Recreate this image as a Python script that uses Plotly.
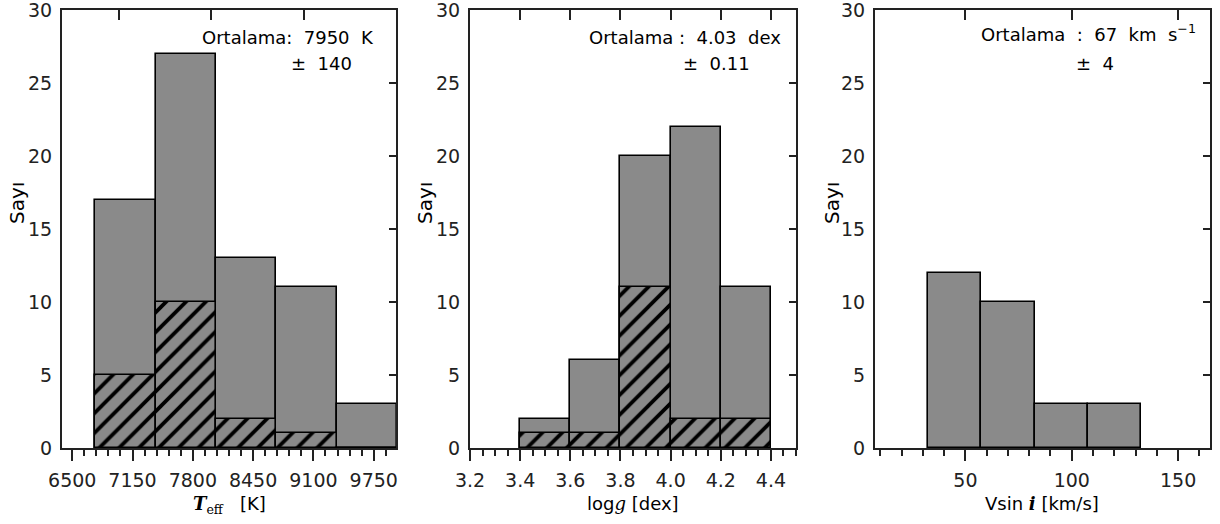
import plotly.graph_objects as go

W, H = 1220, 524

# ---------------- data ----------------
teff_edges = [6750, 7400, 8050, 8700, 9350, 10000]
teff_total = [17, 27, 13, 11, 3]
teff_hatched = [5, 10, 2, 1, 0]

logg_edges = [3.4, 3.6, 3.8, 4.0, 4.2, 4.4]
logg_total = [2, 6, 20, 22, 11]
logg_hatched = [1, 1, 11, 2, 2]

vsini_edges = [32.5, 57.5, 82.5, 107.5, 132.5]
vsini_total = [12, 10, 3, 3]

teff_ticks = [6500, 7150, 7800, 8450, 9100, 9750]
logg_ticks = [3.2, 3.4, 3.6, 3.8, 4.0, 4.2, 4.4]
logg_ticklabels = ["3.2", "3.4", "3.6", "3.8", "4.0", "4.2", "4.4"]
vsini_ticks = [50, 100, 150]
y_ticks = [0, 5, 10, 15, 20, 25, 30]

# ---------------- styling ----------------
FONT = "DejaVu Sans"
GRAY = "#8a8a8a"
AXC = "#222222"
FS = 18
TFS = 19


def px_x(p):
    return p / W


def px_y(p):
    return 1 - p / H


panels = [
    dict(x0=62, x1=396, rng=[6390, 9990], ticks=teff_ticks, labels=[str(t) for t in teff_ticks],
         minor=dict(tick0=6500, dtick=130), top=[7000, 8000, 9000]),
    dict(x0=470, x1=796, rng=[3.2, 4.5], ticks=logg_ticks, labels=logg_ticklabels,
         minor=dict(tick0=3.2, dtick=0.05), top=[3.4, 3.6, 3.8, 4.0, 4.2, 4.4]),
    dict(x0=875, x1=1210, rng=[7.5, 165], ticks=vsini_ticks, labels=[str(t) for t in vsini_ticks],
         minor=dict(tick0=10, dtick=10), top=[50, 100, 150]),
]
ydom = [px_y(448), px_y(10)]

fig = go.Figure()


def centers(edges):
    return [(a + b) / 2 for a, b in zip(edges[:-1], edges[1:])]


def widths(edges):
    return [b - a for a, b in zip(edges[:-1], edges[1:])]


datasets = [
    (teff_edges, teff_total, teff_hatched),
    (logg_edges, logg_total, logg_hatched),
    (vsini_edges, vsini_total, None),
]

for i, (edges, tot, hat) in enumerate(datasets):
    xa = "x" if i == 0 else f"x{i+1}"
    ya = "y" if i == 0 else f"y{i+1}"
    fig.add_trace(go.Bar(x=centers(edges), y=tot, width=widths(edges), xaxis=xa, yaxis=ya,
                         marker=dict(color=GRAY, line=dict(color="black", width=1.6)),
                         showlegend=False, hoverinfo="skip"))
    if hat is not None:
        fig.add_trace(go.Bar(x=centers(edges), y=hat, width=widths(edges), xaxis=xa, yaxis=ya,
                             marker=dict(color=GRAY, line=dict(color="black", width=1.6),
                                         pattern=dict(shape="/", fgcolor="black", bgcolor=GRAY,
                                                      fgopacity=1, size=14, solidity=0.27,
                                                      fillmode="overlay")),
                             showlegend=False, hoverinfo="skip"))
    # empty traces so the overlay axes (top & right frame with inward ticks) are drawn
    fig.add_trace(go.Scatter(x=[], y=[], xaxis=f"x{i+4}", yaxis=ya, showlegend=False))
    fig.add_trace(go.Scatter(x=[], y=[], xaxis=xa, yaxis=f"y{i+4}", showlegend=False))

layout = dict(
    width=W, height=H, margin=dict(l=0, r=0, t=0, b=0, autoexpand=False),
    paper_bgcolor="white", plot_bgcolor="white",
    barmode="overlay", bargap=0,
    font=dict(family=FONT, size=FS, color=AXC),
)

for i, p in enumerate(panels):
    n = "" if i == 0 else str(i + 1)
    dom = [px_x(p["x0"]), px_x(p["x1"])]
    layout[f"xaxis{n}"] = dict(
        domain=dom, range=p["rng"], anchor=f"y{n}", showgrid=False, zeroline=False,
        automargin=False,
        showline=True, linecolor=AXC, linewidth=2,
        tickmode="array", tickvals=p["ticks"], ticktext=p["labels"],
        ticks="outside", ticklen=11, tickwidth=1.5, tickcolor=AXC,
        minor=dict(tickmode="linear", tick0=p["minor"]["tick0"], dtick=p["minor"]["dtick"],
                   ticks="outside", ticklen=6, tickwidth=1.5, tickcolor=AXC),
        tickfont=dict(family=FONT, size=TFS, color=AXC),
        ticklabelstandoff=3, ticklabeloverflow="allow",
    )
    layout[f"yaxis{n}"] = dict(
        domain=ydom, range=[0, 30], anchor=f"x{n}", showgrid=False, zeroline=False,
        automargin=False,
        showline=True, linecolor=AXC, linewidth=2,
        tickmode="array", tickvals=y_ticks, ticks="",
        tickfont=dict(family=FONT, size=TFS, color=AXC),
        ticklabelstandoff=4, ticklabeloverflow="allow",
    )
    layout[f"xaxis{i+4}"] = dict(
        domain=dom, range=p["rng"], overlaying=f"x{n}", side="top", anchor=f"y{n}",
        automargin=False,
        showgrid=False, zeroline=False, showline=True, linecolor=AXC, linewidth=2,
        tickmode="array", tickvals=p["top"], ticks="inside", ticklen=10, tickwidth=1.5,
        tickcolor=AXC, showticklabels=False,
    )
    layout[f"yaxis{i+4}"] = dict(
        domain=ydom, range=[0, 30], overlaying=f"y{n}", side="right", anchor=f"x{n}",
        automargin=False,
        showgrid=False, zeroline=False, showline=True, linecolor=AXC, linewidth=2,
        tickmode="array", tickvals=[5, 10, 15, 20, 25], ticks="inside", ticklen=7,
        tickwidth=1.5, tickcolor=AXC, showticklabels=False,
    )

fig.update_layout(**layout)

NB = "\u00a0"
ann = []


def add(text, x, y, xanchor="center", yanchor="middle", size=FS, angle=0):
    ann.append(dict(text=text, x=px_x(x), y=px_y(y), xref="paper", yref="paper",
                    xanchor=xanchor, yanchor=yanchor, showarrow=False, textangle=angle,
                    font=dict(family=FONT, size=size, color="black")))


# statistics boxes
add(f"Ortalama:{NB}{NB}7950{NB}{NB}K", 376, 38, xanchor="right")
add(f"±{NB}{NB}140", 321, 63)
add(f"Ortalama{NB}:{NB}{NB}4.03{NB}{NB}dex", 783, 38, xanchor="right")
add(f"±{NB}{NB}0.11", 716, 63)
add(f"Ortalama{NB}{NB}:{NB}{NB}67{NB}{NB}km{NB}{NB}s<sup>−1</sup>", 1198, 33, xanchor="right")
add(f"±{NB}{NB}4", 1095, 63)

# y titles
for xp in [17, 425, 832]:
    add("Sayı", xp, 203, angle=-90, size=20)

# x titles
add('<span style="font-family:DejaVu Serif"><b><i>T</i></b><sub>eff</sub></span>' + f"{NB}{NB}{NB}[K]", 229, 505)
add('log<span style="font-family:DejaVu Serif"><i>g</i></span> [dex]', 633, 503)
add('Vsin <span style="font-family:DejaVu Serif"><b><i>i</i></b></span> [km/s]', 1042, 503)

fig.update_layout(annotations=ann)
fig.write_html("out.html")
